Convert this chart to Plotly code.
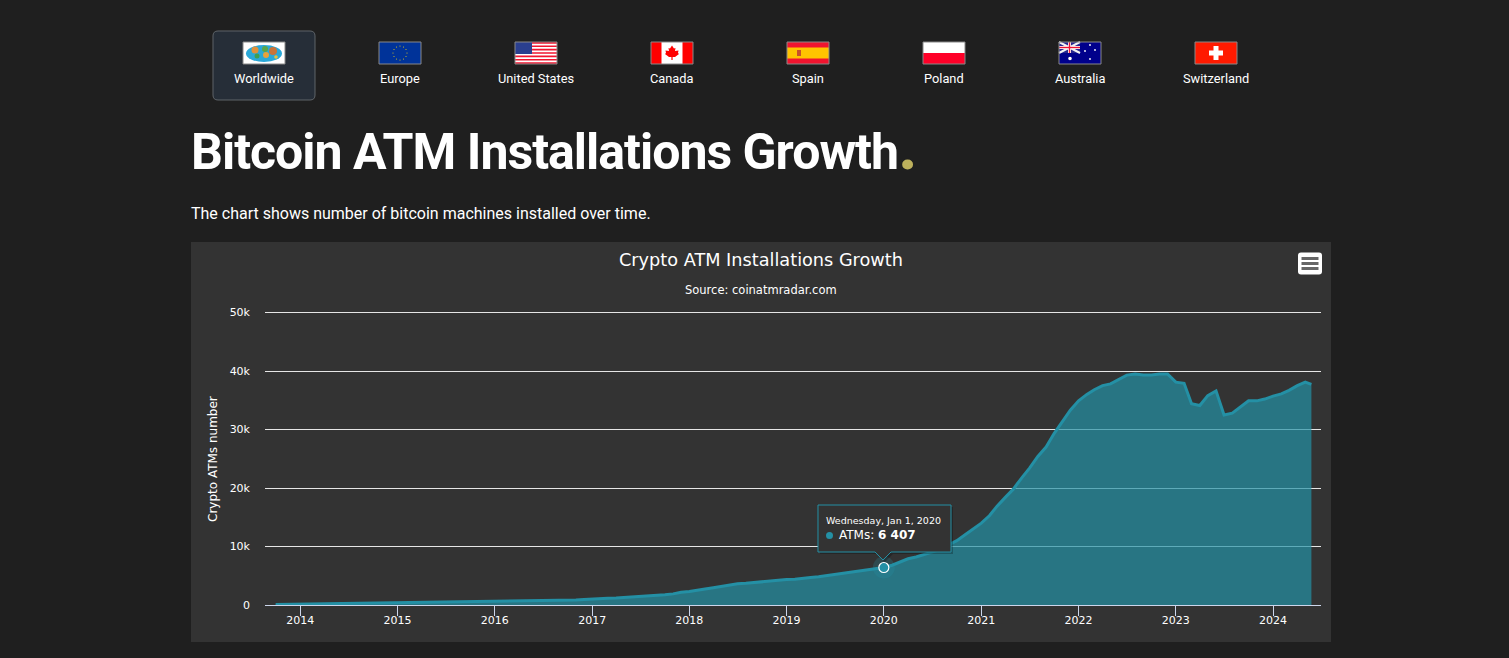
import pandas as pd
import plotly.graph_objects as go

W = 1509
H = 658

# monthly number of machines
atms_2013 = [90, 110, 130]
atms_2014 = [150, 170, 190, 215, 240, 265, 290, 315, 340, 365, 385, 405]
atms_2015 = [420, 430, 440, 450, 460, 470, 480, 490, 500, 510, 520, 530]
atms_2016 = [560, 590, 610, 630, 650, 680, 700, 730, 760, 800, 840, 930]
atms_2017 = [1040, 1090, 1140, 1200, 1270, 1340, 1420, 1510, 1610, 1740, 1900, 2170]
atms_2018 = [2290, 2460, 2720, 2950, 3200, 3450, 3650, 3720, 3860, 3980, 4080, 4200]
atms_2019 = [4340, 4420, 4500, 4700, 4830, 5020, 5220, 5480, 5620, 5830, 6000, 6200]
atms_2020 = [6407, 6800, 7300, 7900, 8200, 8600, 9000, 9500, 10300, 11000, 12000, 13000]
atms_2021 = [14000, 15300, 16900, 18400, 19800, 21700, 23400, 25400, 27000, 29300, 31300, 33300]
atms_2022 = [34900, 36000, 36800, 37500, 37800, 38500, 39300, 39500, 39300, 39300, 39500, 39500]
atms_2023 = [38100, 37900, 34400, 34100, 35800, 36600, 32500, 32800, 33800, 34900, 34900, 35200]
atms_2024 = [35700, 36100, 36700, 37500, 38100, 37700]

atms = (atms_2013 + atms_2014 + atms_2015 + atms_2016 + atms_2017 + atms_2018
        + atms_2019 + atms_2020 + atms_2021 + atms_2022 + atms_2023 + atms_2024)
months = list(pd.date_range("2013-10-01", "2024-05-01", freq="MS")) + [pd.Timestamp("2024-05-24")]

years = [str(y) for y in range(2014, 2025)]
y_ticks = [0, 10000, 20000, 30000, 40000, 50000]
y_labels = ["0", "10k", "20k", "30k", "40k", "50k"]

hover_date = "2020-01-01"
hover_value = 6407

tabs = ["Worldwide", "Europe", "United States", "Canada", "Spain", "Poland", "Australia", "Switzerland"]
tab_x = [264, 400, 536, 672, 808, 944, 1080, 1216]

LINE = "#2490a5"
FILL = "rgba(36,145,165,0.7)"
CHART_FONT = "DejaVu Sans"
PAGE_FONT = "Roboto"

shapes = []
notes = []


def px(x):
    return x / W


def py(y):
    return 1 - y / H


def rect(x0, y0, x1, y1, fill, line=None, width=1, layer="below"):
    shapes.append(dict(type="rect", xref="paper", yref="paper", x0=px(x0), y0=py(y0), x1=px(x1), y1=py(y1),
                       fillcolor=fill, line=dict(color=line or fill, width=width if line else 0), layer=layer))


def dot(cx, cy, r, fill):
    shapes.append(dict(type="circle", xref="paper", yref="paper", x0=px(cx - r), y0=py(cy - r),
                       x1=px(cx + r), y1=py(cy + r), fillcolor=fill, line=dict(width=0), layer="below"))


def path(points, fill=None, line=None, width=1, layer="below", close=True):
    d = "M " + " L ".join(f"{px(a):.5f},{py(b):.5f}" for a, b in points) + (" Z" if close else "")
    shapes.append(dict(type="path", xref="paper", yref="paper", path=d, fillcolor=fill or "rgba(0,0,0,0)",
                       line=dict(color=line or "rgba(0,0,0,0)", width=width), layer=layer))


def round_rect(x0, y0, x1, y1, r, fill, line=None, width=1):
    d = (f"M {px(x0 + r):.5f},{py(y0):.5f} L {px(x1 - r):.5f},{py(y0):.5f} "
         f"Q {px(x1):.5f},{py(y0):.5f} {px(x1):.5f},{py(y0 + r):.5f} L {px(x1):.5f},{py(y1 - r):.5f} "
         f"Q {px(x1):.5f},{py(y1):.5f} {px(x1 - r):.5f},{py(y1):.5f} L {px(x0 + r):.5f},{py(y1):.5f} "
         f"Q {px(x0):.5f},{py(y1):.5f} {px(x0):.5f},{py(y1 - r):.5f} L {px(x0):.5f},{py(y0 + r):.5f} "
         f"Q {px(x0):.5f},{py(y0):.5f} {px(x0 + r):.5f},{py(y0):.5f} Z")
    shapes.append(dict(type="path", xref="paper", yref="paper", path=d, fillcolor=fill,
                       line=dict(color=line or fill, width=width if line else 0), layer="below"))


def text(x, y, s, size, font=CHART_FONT, anchor="center", color="#ffffff", angle=0):
    notes.append(dict(xref="paper", yref="paper", x=px(x), y=py(y), text=s, showarrow=False, xanchor=anchor,
                      yanchor="middle", borderpad=0, textangle=angle, font=dict(family=font, size=size, color=color)))


# flags, each 42x22 with its top left corner at (l, 42)
def flag_world(l):
    rect(l, 42, l + 42, 64, "#ffffff")
    shapes.append(dict(type="circle", xref="paper", yref="paper", x0=px(l + 3), y0=py(45), x1=px(l + 39), y1=py(62),
                       fillcolor="#2aa8d8", line=dict(width=0), layer="below"))
    dot(l + 12, 50, 3.5, "#e0913a")
    dot(l + 14, 56, 2.5, "#3f9e52")
    dot(l + 22, 49, 3, "#5aa64a")
    dot(l + 23, 55, 3, "#e8a23c")
    dot(l + 30, 51, 4, "#c9743a")
    dot(l + 33, 57, 1.8, "#e8c23c")


def flag_eu(l):
    rect(l, 42, l + 42, 64, "#003399")
    stars = [(0, -7), (3.5, -6), (6, -3.5), (7, 0), (6, 3.5), (3.5, 6), (0, 7), (-3.5, 6), (-6, 3.5), (-7, 0), (-6, -3.5), (-3.5, -6)]
    for a, b in stars:
        dot(l + 21 + a, 53 + b, 0.6, "#d8c020")


def flag_us(l):
    rect(l, 42, l + 42, 64, "#ffffff")
    for i in range(0, 13, 2):
        rect(l, 42 + i * 22 / 13, l + 42, 42 + (i + 1) * 22 / 13, "#f0142f")
    rect(l, 42, l + 17, 54, "#2a3f8f")


def flag_canada(l):
    rect(l, 42, l + 42, 64, "#ffffff")
    rect(l, 42, l + 10.5, 64, "#ff0000")
    rect(l + 31.5, 42, l + 42, 64, "#ff0000")
    c = l + 21
    path([(c, 45.5), (c + 2, 48.5), (c + 3.5, 48), (c + 3, 51), (c + 6.5, 50.5), (c + 6, 53), (c + 7, 54), (c + 3, 57),
          (c + 0.6, 57), (c + 0.6, 60), (c - 0.6, 60), (c - 0.6, 57), (c - 3, 57), (c - 7, 54), (c - 6, 53),
          (c - 6.5, 50.5), (c - 3, 51), (c - 3.5, 48), (c - 2, 48.5)], fill="#ff0000")


def flag_spain(l):
    rect(l, 42, l + 42, 64, "#f0142f")
    rect(l, 47.5, l + 42, 58.5, "#ffc400")
    rect(l + 10, 50, l + 14, 56, "#c8502a")


def flag_poland(l):
    rect(l, 42, l + 42, 53, "#ffffff")
    rect(l, 53, l + 42, 64, "#ff0028")


def flag_australia(l):
    rect(l, 42, l + 42, 64, "#00008b")
    rect(l, 42, l + 21, 53, "#26268f")
    path([(l, 42), (l + 21, 53)], line="#f2f2f2", width=2, close=False)
    path([(l + 21, 42), (l, 53)], line="#f2f2f2", width=2, close=False)
    rect(l, 46, l + 21, 49, "#ffffff")
    rect(l + 9, 42, l + 12, 53, "#ffffff")
    rect(l, 46.8, l + 21, 48.2, "#ee1133")
    rect(l + 9.8, 42, l + 11.2, 53, "#ee1133")
    dot(l + 11, 58.5, 1.8, "#ffffff")
    for a, b in [(31, 45), (26, 51), (36, 50), (31, 59)]:
        dot(l + a, b, 0.9, "#ffffff")


def flag_swiss(l):
    rect(l, 42, l + 42, 64, "#ff1a00")
    rect(l + 18.5, 46, l + 23.5, 60, "#ffffff")
    rect(l + 14, 50.5, l + 28, 55.5, "#ffffff")


# page furniture
round_rect(213, 31, 315, 100, 5, "#262e38", "#5f6469")
flag_painters = [flag_world, flag_eu, flag_us, flag_canada, flag_spain, flag_poland, flag_australia, flag_swiss]
for name, cx, paint in zip(tabs, tab_x, flag_painters):
    l = cx - 21
    paint(l)
    rect(l, 42, l + 42, 64, "rgba(0,0,0,0)", "#888888")
    text(cx, 78.5, name, 12.8, PAGE_FONT)

text(190, 146, '<b><span style="letter-spacing:-1px">Bitcoin ATM Installations Growth</span>'
     '<span style="color:#bdb15d;font-size:68px">.</span></b>', 50, PAGE_FONT, "left")
text(190, 213.5, "The chart shows number of bitcoin machines installed over time.", 16, PAGE_FONT, "left")

# chart panel
rect(191, 242, 1331, 642, "#333333")
text(761, 259.5, "Crypto ATM Installations Growth", 17.7)
text(761, 289.5, "Source: coinatmradar.com", 11.5)
text(213, 459, "Crypto ATMs number", 12, angle=-90)

# export menu button
round_rect(1298, 252.5, 1322, 274.5, 3, "#ffffff")
for top in [257, 262, 267]:
    rect(1301.5, top, 1318.5, top + 3, "#666666")

# tooltip
box = [(818, 505), (951, 505), (951, 552), (891, 552), (883, 560), (875, 552), (818, 552)]
path([(a + 2, b + 2) for a, b in box], fill="rgba(0,0,0,0.25)", layer="above")
path(box, fill="#333333", line=LINE, width=1, layer="above")
shapes.append(dict(type="circle", xref="paper", yref="paper", x0=px(826), y0=py(532), x1=px(833), y1=py(539),
                   fillcolor=LINE, line=dict(width=0), layer="above"))
text(825, 520, "Wednesday, Jan 1, 2020", 9.5, anchor="left")
text(838, 534.5, "ATMs: <b>6 407</b>", 12, anchor="left")

fig = go.Figure()
fig.add_trace(go.Scatter(x=months, y=atms, mode="lines", line=dict(color=LINE, width=3),
                         fill="tozeroy", fillcolor=FILL, showlegend=False))
fig.add_trace(go.Scatter(x=[hover_date], y=[hover_value], mode="markers", showlegend=False,
                         marker=dict(size=22, color=LINE, opacity=0.25, line=dict(width=0))))
fig.add_trace(go.Scatter(x=[hover_date], y=[hover_value], mode="markers", showlegend=False,
                         marker=dict(size=10, color=LINE, line=dict(color="#ffffff", width=1.2))))

fig.update_layout(
    width=W,
    height=H,
    margin=dict(l=0, r=0, t=0, b=0),
    paper_bgcolor="#1f1f1f",
    plot_bgcolor="rgba(0,0,0,0)",
    hovermode=False,
    shapes=shapes,
    annotations=notes,
    font=dict(family=CHART_FONT, size=11, color="#ffffff"),
    xaxis=dict(
        domain=[265 / W, 1321 / W],
        type="date",
        range=["2013-08-22", "2024-06-29"],
        tickvals=[y + "-01-01" for y in years],
        ticktext=years,
        automargin=False,
        showgrid=False,
        zeroline=False,
        showline=True,
        linecolor="#ccd6eb",
        linewidth=1,
        ticks="outside",
        ticklen=10,
        ticklabelstandoff=-5,
        tickcolor="#ccd6eb",
        tickfont=dict(size=11, color="#ffffff"),
    ),
    yaxis=dict(
        # a little headroom so the 50k gridline is not dropped at the range end
        domain=[1 - 605 / H, 1 - 310.5 / H],
        range=[0, 50342],
        tickvals=y_ticks,
        ticktext=y_labels,
        automargin=False,
        showgrid=True,
        gridcolor="#e6e6e6",
        gridwidth=1,
        zeroline=False,
        showline=False,
        ticks="",
        ticklabelstandoff=14,
        tickfont=dict(size=11, color="#ffffff"),
    ),
)

fig.write_html("out.html", config=dict(displayModeBar=False),
               post_script="document.body.style.margin='0';document.body.style.background='#1f1f1f';document.documentElement.style.overflow='hidden';")
